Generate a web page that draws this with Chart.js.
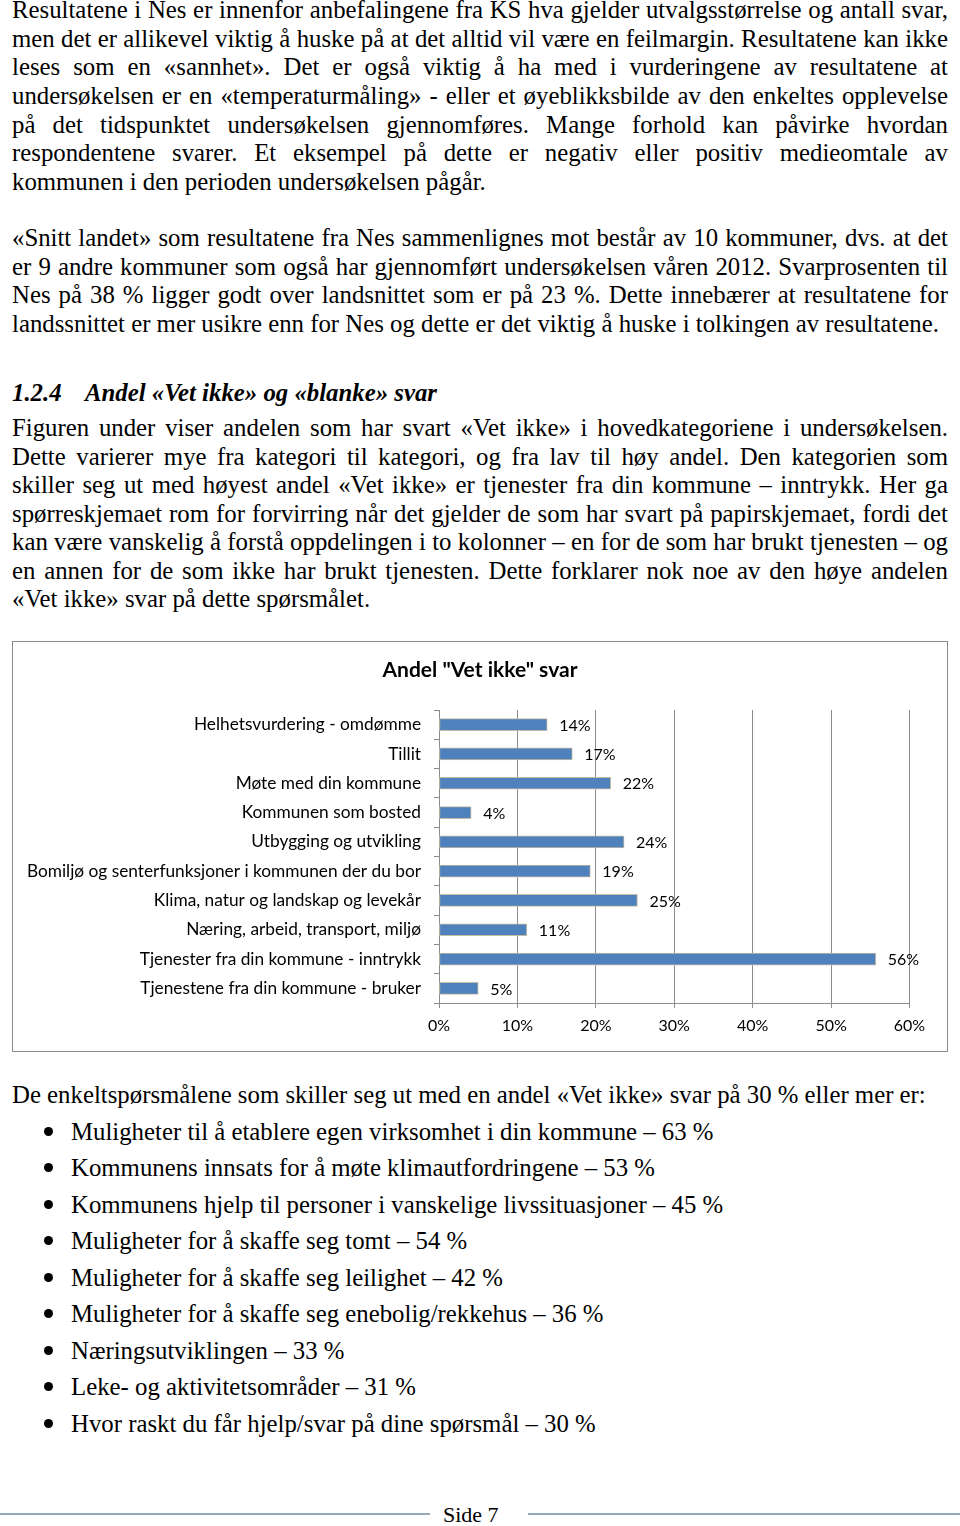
<!DOCTYPE html>
<html>
<head>
<meta charset="utf-8">
<script src="https://cdn.jsdelivr.net/npm/chart.js@4.4.0/dist/chart.umd.min.js"></script>
<style>
  html, body { margin: 0; padding: 0; background: #fff; }
  #page { position: relative; width: 960px; height: 1526px; overflow: hidden; }
  .ln {
    position: absolute; left: 12px; width: 936px;
    font-family: "Liberation Serif", "Times New Roman", serif;
    font-size: 24.8px; line-height: 29px; color: #000; white-space: nowrap;
  }
  .hd { font-weight: bold; font-style: italic; }
  .dot { position: absolute; width: 9px; height: 9px; border-radius: 50%; background: #000; }
  #chartBox {
    position: absolute; left: 12px; top: 641px; width: 936px; height: 411px;
    box-sizing: border-box; border: 1px solid #8c8c8c; background: #fff;
  }
  #chart { display: block; }
  .rule { position: absolute; height: 2px; background: #95a8b8; top: 1513px; }
  #pageNo {
    position: absolute; left: 443px; top: 1503px;
    font-family: "Liberation Serif", serif; font-size: 22px; line-height: 24px;
  }
</style>
</head>
<body>
<div id="page">
  <div id="chartBox"><canvas id="chart" width="934" height="409"></canvas></div>
  <div class="rule" style="left:0; width:430px;"></div>
  <div id="pageNo">Side 7</div>
  <div class="rule" style="left:528px; width:432px;"></div>
</div>
<script>
// chart data
const categories = [
  'Helhetsvurdering - omdømme',
  'Tillit',
  'Møte med din kommune',
  'Kommunen som bosted',
  'Utbygging og utvikling',
  'Bomiljø og senterfunksjoner i kommunen der du bor',
  'Klima, natur og landskap og levekår',
  'Næring, arbeid, transport, miljø',
  'Tjenester fra din kommune - inntrykk',
  'Tjenestene fra din kommune - bruker'
];
const vetIkkeShare = [13.8, 17.0, 21.9, 4.1, 23.6, 19.3, 25.3, 11.2, 55.7, 5.0];
const chartTitle = 'Andel "Vet ikke" svar';

// page text
const para1 = [
  'Resultatene i Nes er innenfor anbefalingene fra KS hva gjelder utvalgsstørrelse og antall svar,',
  'men det er allikevel viktig å huske på at det alltid vil være en feilmargin. Resultatene kan ikke',
  'leses som en «sannhet». Det er også viktig å ha med i vurderingene av resultatene at',
  'undersøkelsen er en «temperaturmåling» - eller et øyeblikksbilde av den enkeltes opplevelse',
  'på det tidspunktet undersøkelsen gjennomføres. Mange forhold kan påvirke hvordan',
  'respondentene svarer. Et eksempel på dette er negativ eller positiv medieomtale av',
  'kommunen i den perioden undersøkelsen pågår.'
];
const para2 = [
  '«Snitt landet» som resultatene fra Nes sammenlignes mot består av 10 kommuner, dvs. at det',
  'er 9 andre kommuner som også har gjennomført undersøkelsen våren 2012. Svarprosenten til',
  'Nes på 38 % ligger godt over landsnittet som er på 23 %. Dette innebærer at resultatene for',
  'landssnittet er mer usikre enn for Nes og dette er det viktig å huske i tolkingen av resultatene.'
];
const headingNo = '1.2.4';
const headingText = 'Andel «Vet ikke» og «blanke» svar';
const para3 = [
  'Figuren under viser andelen som har svart «Vet ikke» i hovedkategoriene i undersøkelsen.',
  'Dette varierer mye fra kategori til kategori, og fra lav til høy andel. Den kategorien som',
  'skiller seg ut med høyest andel «Vet ikke» er tjenester fra din kommune – inntrykk. Her ga',
  'spørreskjemaet rom for forvirring når det gjelder de som har svart på papirskjemaet, fordi det',
  'kan være vanskelig å forstå oppdelingen i to kolonner – en for de som har brukt tjenesten – og',
  'en annen for de som ikke har brukt tjenesten. Dette forklarer nok noe av den høye andelen',
  '«Vet ikke» svar på dette spørsmålet.'
];
const listIntro = 'De enkeltspørsmålene som skiller seg ut med en andel «Vet ikke» svar på 30 % eller mer er:';
const bullets = [
  'Muligheter til å etablere egen virksomhet i din kommune – 63 %',
  'Kommunens innsats for å møte klimautfordringene – 53 %',
  'Kommunens hjelp til personer i vanskelige livssituasjoner – 45 %',
  'Muligheter for å skaffe seg tomt – 54 %',
  'Muligheter for å skaffe seg leilighet – 42 %',
  'Muligheter for å skaffe seg enebolig/rekkehus – 36 %',
  'Næringsutviklingen – 33 %',
  'Leke- og aktivitetsområder – 31 %',
  'Hvor raskt du får hjelp/svar på dine spørsmål – 30 %'
];

const page = document.getElementById('page');
const justified = [];

function addLine(text, baseline, opts) {
  opts = opts || {};
  const d = document.createElement('div');
  d.className = 'ln' + (opts.cls ? ' ' + opts.cls : '');
  d.style.top = (baseline - 25.4) + 'px';
  if (opts.left != null) { d.style.left = opts.left + 'px'; d.style.width = 'auto'; }
  const s = document.createElement('span');
  s.textContent = text;
  d.appendChild(s);
  page.appendChild(d);
  if (opts.justify) justified.push(s);
}

function addPara(lines, firstBaseline, step) {
  lines.forEach((t, i) => addLine(t, firstBaseline + i * step, { justify: i < lines.length - 1 }));
}

addPara(para1, 20.7, 28.55);
addPara(para2, 248.5, 28.5);
addLine(headingNo, 403.5, { cls: 'hd' });
addLine(headingText, 403.5, { cls: 'hd', left: 85 });
addPara(para3, 438.5, 28.5);
addLine(listIntro, 1105);
bullets.forEach((t, i) => {
  const b = 1142 + i * 36.5;
  const dot = document.createElement('div');
  dot.className = 'dot';
  dot.style.left = '43.5px';
  dot.style.top = (b - 11 - 4.5) + 'px';
  page.appendChild(dot);
  addLine(t, b, { left: 71 });
});

function justifyLines() {
  justified.forEach(s => {
    s.style.wordSpacing = '0px';
    const w = s.getBoundingClientRect().width;
    const gaps = (s.textContent.match(/ /g) || []).length;
    if (gaps) s.style.wordSpacing = ((936 - w) / gaps) + 'px';
  });
}
justifyLines();
if (document.fonts) document.fonts.ready.then(justifyLines);

const barValueLabels = {
  id: 'barValueLabels',
  afterDatasetsDraw(chart) {
    const ctx = chart.ctx;
    const meta = chart.getDatasetMeta(0);
    ctx.save();
    ctx.font = '16px Lato';
    ctx.fillStyle = '#000';
    ctx.textAlign = 'left';
    ctx.textBaseline = 'middle';
    meta.data.forEach((bar, i) => {
      ctx.fillText(Math.round(vetIkkeShare[i]) + '%', bar.x + 12, bar.y + 1);
    });
    ctx.restore();
  }
};

const gridGray = '#8c8c8c';

new Chart(document.getElementById('chart'), {
  type: 'bar',
  data: {
    labels: categories,
    datasets: [{
      data: vetIkkeShare,
      backgroundColor: '#4f81bd',
      borderColor: '#c3bba3',
      borderWidth: 1,
      borderSkipped: false,
      barThickness: 12
    }]
  },
  options: {
    indexAxis: 'y',
    responsive: false,
    animation: false,
    layout: { padding: 0 },
    plugins: {
      legend: { display: false },
      tooltip: { enabled: false },
      title: {
        display: true,
        text: chartTitle,
        color: '#000',
        font: { family: 'Lato', size: 21, weight: 'bold', lineHeight: 1.2 },
        padding: { top: 15.4, bottom: 27.4 }
      }
    },
    scales: {
      x: {
        min: 0,
        max: 60,
        ticks: {
          stepSize: 10,
          color: '#000',
          padding: 8,
          font: { family: 'Lato', size: 16 },
          callback: v => v + '%'
        },
        grid: { color: gridGray, tickLength: 5, drawTicks: true },
        border: { display: true, color: gridGray },
        afterFit(scale) { scale.height = 48; }
      },
      y: {
        ticks: {
          color: '#000',
          padding: 13,
          autoSkip: false,
          font: { family: 'Lato', size: 17.3 }
        },
        grid: { drawOnChartArea: false, drawTicks: true, tickLength: 5, offset: true, color: gridGray },
        border: { display: true, color: gridGray },
        afterFit(scale) { scale.width = 426; }
      },
      // empty right-hand margin so the title stays centred on the whole box
      spacer: {
        type: 'linear',
        position: 'right',
        display: true,
        ticks: { display: false },
        grid: { display: false },
        border: { display: false },
        afterFit(scale) { scale.width = 37.5; }
      }
    }
  },
  plugins: [barValueLabels]
});
</script>
</body>
</html>
